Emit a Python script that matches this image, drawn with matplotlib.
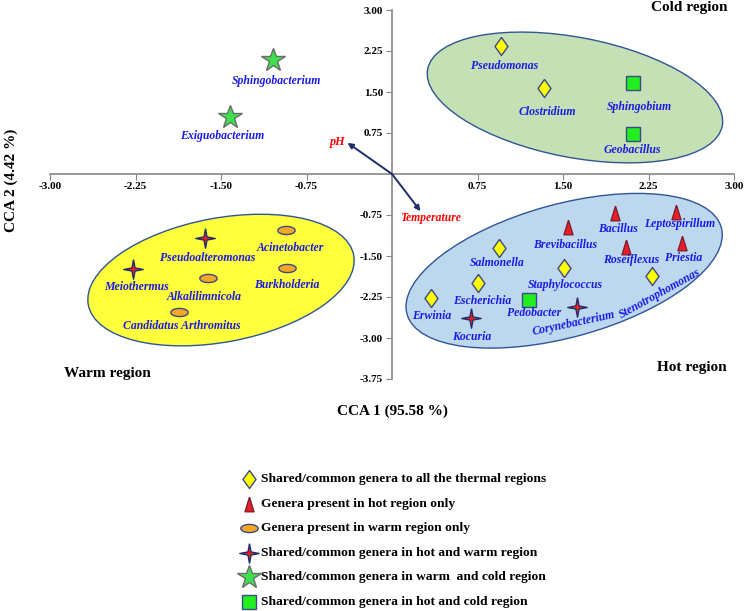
import matplotlib
matplotlib.use("Agg")
import matplotlib.pyplot as plt
from matplotlib.path import Path
from matplotlib.patches import Ellipse
from matplotlib.transforms import ScaledTranslation
import numpy as np

plt.rcParams["font.family"] = ["Liberation Serif", "DejaVu Serif"]

# --- CCA scores ---
genera = ["Sphingobacterium", "Exiguobacterium", "Pseudomonas", "Clostridium",
          "Sphingobium", "Geobacillus", "Acinetobacter", "Pseudoalteromonas",
          "Meiothermus", "Burkholderia", "Alkalilimnicola", "Candidatus Arthromitus",
          "Bacillus", "Leptospirillum", "Brevibacillus", "Roseiflexus", "Priestia",
          "Salmonella", "Staphylococcus", "Stenotrophomonas", "Escherichia",
          "Erwinia", "Pedobacter", "Kocuria", "Corynebacterium"]
cca1 = [-1.04, -1.42, 0.96, 1.33, 2.11, 2.11, -0.93, -1.64, -2.27, -0.92, -1.61, -1.87,
        1.96, 2.49, 1.54, 2.05, 2.54, 0.94, 1.51, 2.28, 0.75, 0.34, 1.20, 0.69, 1.62]
cca2 = [2.09, 1.04, 2.34, 1.57, 1.66, 0.73, -1.02, -1.17, -1.74, -1.72, -1.90, -2.52,
        -0.71, -0.70, -0.97, -1.34, -1.26, -1.35, -1.72, -1.87, -1.99, -2.26, -2.30,
        -2.63, -2.43]
group = ["warm_cold", "warm_cold", "all", "all", "hot_cold", "hot_cold", "warm",
         "hot_warm", "hot_warm", "warm", "warm", "warm", "hot", "hot", "hot", "hot",
         "hot", "all", "all", "all", "all", "all", "hot_cold", "hot_warm", "hot_warm"]

env_names = ["pH", "Temperature"]
env_x = [-0.39, 0.25]
env_y = [0.57, -0.68]

legend_groups = ["all", "hot", "warm", "hot_warm", "warm_cold", "hot_cold"]
legend_labels = ["Shared/common genera to all the thermal regions",
                 "Genera present in hot region only",
                 "Genera present in warm region only",
                 "Shared/common genera in hot and warm region",
                 "Shared/common genera in warm  and cold region",
                 "Shared/common genera in hot and cold region"]

xticks = [-3.0, -2.25, -1.5, -0.75, 0.75, 1.5, 2.25, 3.0]
yticks = [3.0, 2.25, 1.5, 0.75, -0.75, -1.5, -2.25, -3.0, -3.75]

# label positions (data units) and rotations
lab_x = [-1.01, -1.49, 0.99, 1.36, 2.17, 2.11, -0.89, -1.62, -2.24, -0.92, -1.65, -1.84,
         1.98, 2.52, 1.52, 2.10, 2.56, 0.92, 1.52, 2.35, 0.79, 0.35, 1.25, 0.70, 1.59]
lab_y = [1.70, 0.70, 1.98, 1.13, 1.23, 0.44, -1.35, -1.54, -2.07, -2.03, -2.25, -2.78,
         -1.01, -0.91, -1.30, -1.57, -1.54, -1.63, -2.03, -2.18, -2.32, -2.60, -2.54,
         -2.98, -2.74]
lab_rot = {"Stenotrophomonas": 29, "Corynebacterium": 12}

# --- marker styles ---
diamond = Path([(0, 1), (0.72, 0), (0, -1), (-0.72, 0), (0, 1)])
triangle = Path([(0, 1), (0.62, -1), (-0.62, -1), (0, 1)])
t = np.linspace(0, 2 * np.pi, 40)
oval = Path(np.column_stack([np.cos(t), 0.47 * np.sin(t)]))
star4 = Path([(0, 1), (0.16, 0.16), (1, 0), (0.16, -0.16), (0, -1), (-0.16, -0.16),
              (-1, 0), (-0.16, 0.16), (0, 1)])
EDGE = "#3b4a86"
styles = {
    "all":       dict(marker=diamond, ms=13, mfc="#ffff00", mec=EDGE),
    "hot":       dict(marker=triangle, ms=10.5, mfc="#ee1c24", mec="#7a2030"),
    "warm":      dict(marker=oval, ms=12.5, mfc="#f5a623", mec=EDGE),
    "hot_warm":  dict(marker=star4, ms=14, mfc="#ff1a1a", mec="#1f2d6b"),
    "warm_cold": dict(marker="*", ms=17.5, mfc="#3ee04e", mec="#6b6b6b"),
    "hot_cold":  dict(marker="s", ms=9.5, mfc="#22ee22", mec=EDGE),
}

fig = plt.figure(figsize=(7.5, 6.11), dpi=100)
ax = fig.add_axes([50 / 750, 1 - 379 / 611, 684 / 750, 369 / 611])
ax.set_xlim(-3, 3)
ax.set_ylim(-3.75, 3)

# region ellipses: centre in data units, size in pixels
regions = [((1.605, 1.40), 300, 120, -10.9, "#c5e0b4"),
           ((-1.50, -1.94), 270, 124, 10.6, "#ffff3c"),
           ((1.51, -1.77), 326, 133, 15.4, "#bdd7ee")]
for (cx, cy), w, h, ang, fc in regions:
    tr = fig.dpi_scale_trans + ScaledTranslation(cx, cy, ax.transData)
    ax.add_patch(Ellipse((0, 0), w / 100, h / 100, angle=ang, transform=tr,
                         facecolor=fc, edgecolor="#2f5597", lw=1.0, zorder=1))

# spines through origin
for s in ["top", "right"]:
    ax.spines[s].set_visible(False)
ax.spines["left"].set_position(("data", 0))
ax.spines["bottom"].set_position(("data", 0))
for s in ["left", "bottom"]:
    ax.spines[s].set_color("#888888")
    ax.spines[s].set_linewidth(1.2)
ax.set_xticks(xticks)
ax.set_yticks(yticks)
ax.set_xticklabels([f"{v:.2f}" for v in xticks])
ax.set_yticklabels([f"{v:.2f}" for v in yticks])
ax.tick_params(axis="x", direction="out", length=4, color="#888888", pad=1.5,
               labelsize=8)
ax.tick_params(axis="y", direction="out", length=4, color="#888888", pad=2.5,
               labelsize=8)
for lbl in ax.get_xticklabels() + ax.get_yticklabels():
    lbl.set_fontweight("bold")

# genera
for name, x, y, g, lx, ly in zip(genera, cca1, cca2, group, lab_x, lab_y):
    st = styles[g]
    ax.plot(x, y, linestyle="none", marker=st["marker"], markersize=st["ms"],
            markerfacecolor=st["mfc"], markeredgecolor=st["mec"],
            markeredgewidth=1.0, zorder=4)
    ax.text(lx, ly, name, ha="center", va="center", fontsize=8.5,
            fontweight="bold", style="italic", color="#1a1ae6",
            rotation=lab_rot.get(name, 0), zorder=5)

# environmental vectors
for name, x, y in zip(env_names, env_x, env_y):
    ax.annotate("", xy=(x, y), xytext=(0, 0),
                arrowprops=dict(arrowstyle="-|>", color="#1f2d6b", lw=1.4,
                                mutation_scale=8, shrinkA=0, shrinkB=0), zorder=3)
ax.text(-0.48, 0.585, "pH", ha="center", va="center", fontsize=8.8,
        fontweight="bold", style="italic", color="red")
ax.text(0.335, -0.80, "Temperature", ha="center", va="center", fontsize=8.4,
        fontweight="bold", style="italic", color="red")

# overlay in pixel units for titles and legend
lax = fig.add_axes([0, 0, 1, 1])
lax.set_xlim(0, 750)
lax.set_ylim(611, 0)
lax.axis("off")

lax.text(689, 8, "Cold region", ha="center", va="center", fontsize=11, fontweight="bold")
lax.text(107, 374, "Warm region", ha="center", va="center", fontsize=11, fontweight="bold")
lax.text(692, 367, "Hot region", ha="center", va="center", fontsize=11, fontweight="bold")
lax.text(392, 411, "CCA 1 (95.58 %)", ha="center", va="center", fontsize=11,
         fontweight="bold")
lax.text(11, 180, "CCA 2 (4.42 %)", ha="center", va="center", fontsize=11,
         fontweight="bold", rotation=90)

for i, (g, lab) in enumerate(zip(legend_groups, legend_labels)):
    st = styles[g]
    yy = 479 + i * 24.6
    lax.plot(249, yy, linestyle="none", marker=st["marker"], markersize=st["ms"],
             markerfacecolor=st["mfc"], markeredgecolor=st["mec"], markeredgewidth=1.0)
    lax.text(261, yy, lab, ha="left", va="center", fontsize=9.7, fontweight="bold")

fig.savefig("out.png", dpi=100, facecolor="white")
